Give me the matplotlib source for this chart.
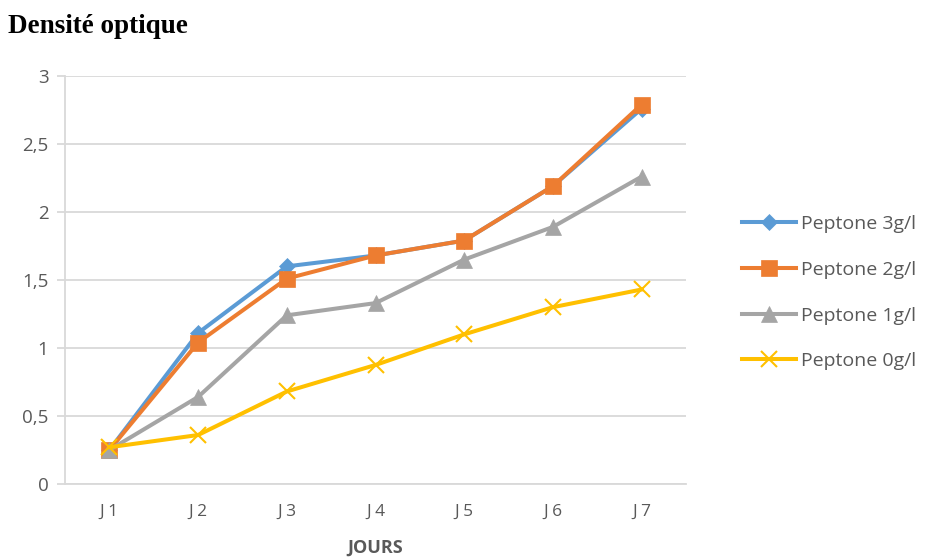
import matplotlib.pyplot as plt
from matplotlib.lines import Line2D

# Optical density per day for each peptone concentration
jours = ['J 1', 'J 2', 'J 3', 'J 4', 'J 5', 'J 6', 'J 7']
peptone_3 = [0.25, 1.11, 1.60, 1.68, 1.79, 2.19, 2.76]
peptone_2 = [0.25, 1.04, 1.51, 1.68, 1.79, 2.19, 2.79]
peptone_1 = [0.25, 0.64, 1.24, 1.33, 1.65, 1.89, 2.26]
peptone_0 = [0.27, 0.36, 0.68, 0.875, 1.10, 1.30, 1.43]

series = [
    ('Peptone 3g/l', peptone_3, '#5B9BD5', 'D', 8),
    ('Peptone 2g/l', peptone_2, '#ED7D31', 's', 11),
    ('Peptone 1g/l', peptone_1, '#A5A5A5', '^', 11),
    ('Peptone 0g/l', peptone_0, '#FFC000', 'x', 11),
]

plt.rcParams['font.family'] = ['Open Sans', 'DejaVu Sans']

fig = plt.figure(figsize=(9.29, 5.57), dpi=100)
ax = fig.add_axes([0.070, 0.1311, 0.6684, 0.7325])

x = range(len(jours))
for label, vals, color, marker, ms in series:
    ax.plot(x, vals, color=color, lw=2.9, marker=marker, markersize=ms,
            markeredgewidth=1.5 if marker == 'x' else 0.5,
            markeredgecolor=color, label=label, solid_joinstyle='round')

ax.set_xlim(-0.5, 6.5)
ax.set_ylim(0, 3)
ax.set_yticks([0, 0.5, 1, 1.5, 2, 2.5, 3])
ax.set_yticklabels(['0', '0,5', '1', '1,5', '2', '2,5', '3'])
ax.set_xticks(list(x))
ax.set_xticklabels(jours)

ax.grid(axis='y', color='#D9D9D9', lw=1.3)
ax.set_axisbelow(True)
for side in ['top', 'right']:
    ax.spines[side].set_visible(False)
for side in ['left', 'bottom']:
    ax.spines[side].set_color('#D9D9D9')
    ax.spines[side].set_linewidth(1.3)

ax.tick_params(axis='y', length=6, width=1.3, color='#D9D9D9',
               labelcolor='#595959', labelsize=13.5, pad=6)
ax.tick_params(axis='x', length=0, labelcolor='#595959', labelsize=12.5, pad=14)

ax.set_xlabel('JOURS', fontsize=13, fontweight='bold', color='#595959', labelpad=14)

fig.text(0.009, 0.953, 'Densité optique', family='Liberation Serif',
         fontsize=19.5, fontweight='bold', ha='left', va='center')

handles = [Line2D([], [], color=c, lw=2.9, marker=m, markersize=ms,
                  markeredgecolor=c, markeredgewidth=1.5 if m == 'x' else 0.5)
           for _, _, c, m, ms in series]
fig.legend(handles, [s[0] for s in series], loc='upper left',
           bbox_to_anchor=(0.7987, 0.6135), frameon=False, fontsize=14,
           labelcolor='#595959', handlelength=2.8, handletextpad=0.25,
           labelspacing=1.42, borderpad=0, borderaxespad=0)

plt.savefig('out.png', dpi=100)
